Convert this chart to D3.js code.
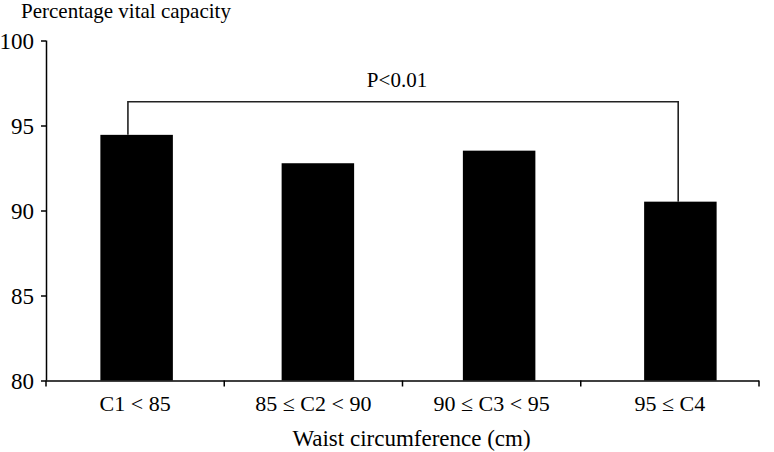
<!DOCTYPE html>
<html>
<head>
<meta charset="utf-8">
<script src="https://cdn.jsdelivr.net/npm/d3@7"></script>
<style>
	svg text { font-family: 'Liberation Serif', Tinos !important; }
</style>
</head>
<body style="margin:0">
<script>
// data
const categories = ['C1 < 85', '85 \u2264 C2 < 90', '90 \u2264 C3 < 95', '95 \u2264 C4'];
const values = [94.45, 92.78, 93.52, 90.52];
const yTicks = [80, 85, 90, 95, 100];
const yTitle = 'Percentage vital capacity';
const xTitle = 'Waist circumference (cm)';
const bracketFrom = 0;   // index of first compared group
const bracketTo = 3;     // index of second compared group
const bracketLabel = 'P<0.01';

const fontFamily = 'Liberation Serif';

//
//
//
const width = 774;
const height = 452;
const margin = { top: 40.5, right: 15, bottom: 71.5, left: 46 };

const svg = d3.select('body').append('svg')
	.attr('width', width)
	.attr('height', height)
	.attr('font-family', fontFamily);

const y = d3.scaleLinear()
	.domain([80, 100])
	.range([height - margin.bottom, margin.top]);

// axis scale for the category boundaries and labels
const xAxisScale = d3.scaleBand()
	.domain(categories)
	.range([margin.left, 759])
	.padding(0);

// bars sit a little further right than the labels in the original
const xBar = d3.scaleBand()
	.domain(categories)
	.range([margin.left, 771])
	.paddingInner(0.6)
	.paddingOuter(0.3);

//
// bars
//
svg.selectAll('rect.bar')
	.data(values)
	.enter()
	.append('rect')
	.attr('class', 'bar')
	.attr('x', (d, i) => xBar(categories[i]))
	.attr('y', d => y(d))
	.attr('width', xBar.bandwidth())
	.attr('height', d => y(80) - y(d))
	.style('fill', '#000');

//
// y axis
//
const yAxis = svg.append('g')
	.attr('transform', `translate(${margin.left},0)`)
	.call(d3.axisLeft(y).tickValues(yTicks).tickSize(5).tickPadding(7))
	.attr('font-family', fontFamily)
	.attr('font-size', 23);
yAxis.select('.domain').attr('stroke', '#000').attr('stroke-width', 1.5)
	.attr('d', `M0.5,${y(80)}V${y(100)}`);
yAxis.selectAll('.tick line').attr('stroke', '#000').attr('stroke-width', 1.5);
yAxis.selectAll('.tick text')
	.attr('fill', '#000')
	.attr('dy', '0.33em');

//
// x axis
//
const xAxis = svg.append('g')
	.attr('transform', `translate(0,${y(80)})`)
	.call(d3.axisBottom(xAxisScale).tickSize(0).tickPadding(15))
	.attr('font-family', fontFamily)
	.attr('font-size', 22);
xAxis.select('.domain').attr('stroke', '#000').attr('stroke-width', 1.5)
	.attr('d', `M${margin.left},0.5H${xAxisScale.range()[1]}`);
xAxis.selectAll('.tick text')
	.attr('fill', '#000');

const boundaries = categories.map(c => xAxisScale(c)).concat([xAxisScale.range()[1]]);
xAxis.selectAll('line.bound')
	.data(boundaries)
	.enter()
	.append('line')
	.attr('class', 'bound')
	.attr('x1', d => d).attr('x2', d => d)
	.attr('y1', 0).attr('y2', 6)
	.attr('stroke', '#000').attr('stroke-width', 1.5);

//
// titles
//
svg.append('text')
	.attr('x', 21)
	.attr('y', 18)
	.attr('font-size', 21)
	.text(yTitle);

svg.append('text')
	.attr('x', (margin.left + xAxisScale.range()[1]) / 2 + 9)
	.attr('y', 446)
	.attr('text-anchor', 'middle')
	.attr('font-size', 23)
	.text(xTitle);

//
// significance bracket
//
const bracketY = 101.7;
const bx1 = xBar(categories[bracketFrom]) + xBar.bandwidth() * 0.38;
const bx2 = xBar(categories[bracketTo]) + xBar.bandwidth() * 0.47;

svg.append('path')
	.attr('d', `M${bx1},${y(values[bracketFrom])}V${bracketY}H${bx2}V${y(values[bracketTo])}`)
	.attr('fill', 'none')
	.attr('stroke', '#222')
	.attr('stroke-width', 1.6);

svg.append('text')
	.attr('x', 397)
	.attr('y', 86.5)
	.attr('text-anchor', 'middle')
	.attr('font-size', 21)
	.text(bracketLabel);
</script>
</body>
</html>
